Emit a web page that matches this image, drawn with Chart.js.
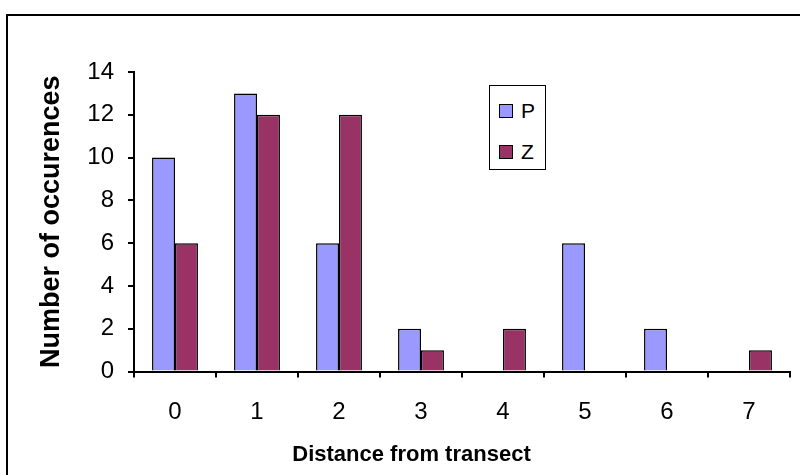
<!DOCTYPE html>
<html>
<head>
<meta charset="utf-8">
<script src="https://cdn.jsdelivr.net/npm/chart.js@4.4.1/dist/chart.umd.min.js"></script>
<style>
  html, body { margin: 0; padding: 0; background: #fff; overflow: hidden; }
  #wrap { position: relative; width: 800px; height: 475px; }
  #frame { position: absolute; left: 6px; top: 14px; width: 820px; height: 500px; border: 2px solid #000; }
  #chart { position: absolute; left: 0; top: 0; }
  #legend { position: absolute; left: 489px; top: 85px; width: 55px; height: 83px; border: 1.5px solid #000; background: #fff;
            font-family: "Liberation Sans", Arial, sans-serif; font-size: 21px; }
  .item { position: absolute; left: 9px; display: flex; align-items: center; }
  .sw { width: 12px; height: 12px; border: 1.5px solid #000; margin-right: 8px; }
</style>
</head>
<body>
<div id="wrap">
  <div id="frame"></div>
  <canvas id="chart" width="800" height="475"></canvas>
  <div id="legend"></div>
</div>
<script>
const categories = ['0', '1', '2', '3', '4', '5', '6', '7'];
const seriesP = [10, 13, 6, 2, 0, 6, 2, 0];
const seriesZ = [6, 12, 12, 1, 2, 0, 0, 1];
const yTicks = [0, 2, 4, 6, 8, 10, 12, 14];

const font = "'Liberation Sans', Arial, sans-serif";

const ctx = document.getElementById('chart').getContext('2d');
const chart = new Chart(ctx, {
  type: 'bar',
  data: {
    labels: categories,
    datasets: [
      {
        label: 'P',
        data: seriesP,
        backgroundColor: '#9999ff',
        borderColor: '#000',
        borderWidth: 1.5,
        borderSkipped: 'bottom'
      },
      {
        label: 'Z',
        data: seriesZ,
        backgroundColor: '#993366',
        borderColor: '#000',
        borderWidth: 1.5,
        borderSkipped: 'bottom'
      }
    ]
  },
  options: {
    responsive: false,
    animation: false,
    layout: { padding: { left: 33, right: 10, top: 72, bottom: 0 } },
    datasets: { bar: { categoryPercentage: 0.56, barPercentage: 1 } },
    plugins: {
      legend: { display: false },
      tooltip: { enabled: false },
      title: {
        display: true,
        position: 'bottom',
        text: 'Distance from transect',
        color: '#000',
        font: { family: font, size: 22, weight: 'bold' },
        padding: { top: 4, bottom: 7 }
      }
    },
    scales: {
      x: {
        offset: true,
        grid: { offset: true, drawOnChartArea: false, drawTicks: true, tickLength: 6, color: '#000', lineWidth: 2 },
        border: { color: '#000', width: 2 },
        ticks: { color: '#000', font: { family: font, size: 24 }, padding: 20, maxRotation: 0 },
        afterFit: s => { s.height = 66; }
      },
      y: {
        min: 0,
        max: 14,
        afterBuildTicks: s => { s.ticks = yTicks.map(v => ({ value: v })); },
        grid: { drawOnChartArea: false, drawTicks: true, tickLength: 6, color: '#000', lineWidth: 2 },
        border: { color: '#000', width: 2 },
        ticks: { color: '#000', font: { family: font, size: 24 }, padding: 14 },
        title: {
          display: true,
          text: 'Number of occurences',
          color: '#000',
          font: { family: font, size: 27, weight: 'bold' },
          padding: { top: 2, bottom: 0 }
        },
        afterFit: s => { s.width = 101; }
      }
    }
  }
});

// legend box inside the plot, built from the datasets
const legend = document.getElementById('legend');
const tops = [13, 54];
chart.data.datasets.forEach((ds, i) => {
  const item = document.createElement('div');
  item.className = 'item';
  item.style.top = tops[i] + 'px';
  const sw = document.createElement('span');
  sw.className = 'sw';
  sw.style.background = ds.backgroundColor;
  const t = document.createElement('span');
  t.textContent = ds.label;
  item.appendChild(sw);
  item.appendChild(t);
  legend.appendChild(item);
});
</script>
</body>
</html>
